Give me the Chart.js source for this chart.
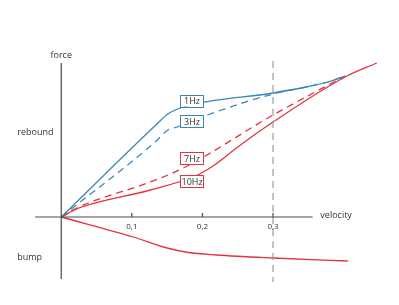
<!DOCTYPE html>
<html>
<head>
<meta charset="utf-8">
<script src="https://cdn.jsdelivr.net/npm/chart.js@4/dist/chart.umd.min.js"></script>
<style>
html, body { margin: 0; padding: 0; background: #fff; }
</style>
</head>
<body>
<canvas id="chart" width="399" height="305"></canvas>
<script>
// velocity (x) and force (y) values
const hz1X = [0, 0.137, 0.151, 0.173, 0.300, 0.350, 0.380, 0.402];
const hz1Y = [0, 9.4, 10.3, 11.0, 12.4, 13.05, 13.55, 14.1];

const hz3X = [0, 0.133, 0.151, 0.164, 0.207, 0.300, 0.350, 0.380, 0.402];
const hz3Y = [0, 7.5, 8.7, 9.0, 10.2, 12.3, 13.05, 13.55, 14.1];

const hz7X = [0, 0.025, 0.126, 0.173, 0.300, 0.402];
const hz7Y = [0, 1.0, 3.5, 4.9, 10.2, 14.1];

const hz10X = [0, 0.025, 0.126, 0.190, 0.215, 0.250, 0.300, 0.402, 0.447];
const hz10Y = [0, 0.9, 2.7, 4.1, 5.1, 7.0, 9.5, 14.0, 15.4];

const bumpX = [0, 0.102, 0.150, 0.180, 0.220, 0.300, 0.406];
const bumpY = [0, -2.0, -3.1, -3.55, -3.8, -4.1, -4.4];

const markerX = [0.3, 0.3];
const markerY = [15.6, -6.5];

const tickValues = [0.1, 0.2, 0.3];
const tickLabels = ["0,1", "0,2", "0,3"];

const seriesNames = ["1Hz", "3Hz", "7Hz", "10Hz"];
const seriesLabelY = [11.65, 9.6, 5.9, 3.55];
const seriesLabelX = 0.1846;

const blue = "#3b87b3";
const red = "#e2333f";

function pts(xs, ys) {
    return xs.map((x, i) => ({ x: x, y: ys[i] }));
}

function line(data, color, dash) {
    return {
        data: data,
        borderColor: color,
        backgroundColor: color,
        borderWidth: 1.3,
        borderDash: dash || [],
        pointRadius: 0,
        showLine: true,
        fill: false,
        cubicInterpolationMode: "monotone"
    };
}

const font = "'Open Sans', 'DejaVu Sans', sans-serif";

// axes, tick labels, axis titles and the little Hz boxes
const decorations = {
    id: "decorations",
    afterDatasetsDraw(chart) {
        const ctx = chart.ctx;
        const xs = chart.scales.x;
        const ys = chart.scales.y;
        const x0 = xs.getPixelForValue(0);
        const y0 = ys.getPixelForValue(0);

        ctx.save();
        ctx.strokeStyle = "#4a4a4a";
        ctx.lineWidth = 1.2;
        ctx.beginPath();
        ctx.moveTo(xs.getPixelForValue(-0.037), y0);
        ctx.lineTo(xs.getPixelForValue(0.356), y0);
        ctx.moveTo(x0, ys.getPixelForValue(15.4));
        ctx.lineTo(x0, ys.getPixelForValue(-6.2));
        tickValues.forEach(v => {
            const px = xs.getPixelForValue(v);
            ctx.moveTo(px, y0 - 4);
            ctx.lineTo(px, y0);
        });
        ctx.stroke();

        ctx.fillStyle = "#333";
        ctx.font = "8px " + font;
        ctx.textAlign = "center";
        ctx.textBaseline = "middle";
        tickValues.forEach((v, i) => {
            ctx.fillText(tickLabels[i], xs.getPixelForValue(v), y0 + 10);
        });

        ctx.font = "9px " + font;
        ctx.fillText("force", x0, ys.getPixelForValue(16.2));
        ctx.textAlign = "left";
        ctx.fillText("velocity", xs.getPixelForValue(0.367), y0 - 2);
        ctx.fillText("rebound", x0 - 44, ys.getPixelForValue(8.5));
        ctx.fillText("bump", x0 - 44, ys.getPixelForValue(-4.0));

        // series name boxes
        const bx = xs.getPixelForValue(seriesLabelX);
        seriesNames.forEach((name, i) => {
            const by = ys.getPixelForValue(seriesLabelY[i]);
            const w = 23, h = 12;
            ctx.fillStyle = "#fff";
            ctx.fillRect(bx - w / 2, by - h / 2, w, h);
            ctx.strokeStyle = i < 2 ? blue : red;
            ctx.lineWidth = 1;
            ctx.strokeRect(Math.round(bx - w / 2) + 0.5, Math.round(by - h / 2) + 0.5, w, h);
            ctx.fillStyle = "#333";
            ctx.textAlign = "center";
            ctx.fillText(name, bx + 0.5, by + 1);
        });
        ctx.restore();
    }
};

new Chart(document.getElementById("chart"), {
    type: "scatter",
    data: {
        datasets: [
            Object.assign(line(pts(markerX, markerY), "#9a9a9a", [7, 5]), { borderWidth: 1.2 }),
            line(pts(bumpX, bumpY), red),
            line(pts(hz3X, hz3Y), blue, [7, 5]),
            line(pts(hz1X, hz1Y), blue),
            line(pts(hz7X, hz7Y), red, [7, 5]),
            line(pts(hz10X, hz10Y), red)
        ]
    },
    options: {
        responsive: false,
        animation: false,
        layout: { padding: { left: 33, right: 13, top: 47, bottom: 18 } },
        plugins: { legend: { display: false }, tooltip: { enabled: false } },
        scales: {
            x: { type: "linear", min: -0.04, max: 0.46, display: false },
            y: { type: "linear", min: -7, max: 17, display: false }
        }
    },
    plugins: [decorations]
});
</script>
</body>
</html>
